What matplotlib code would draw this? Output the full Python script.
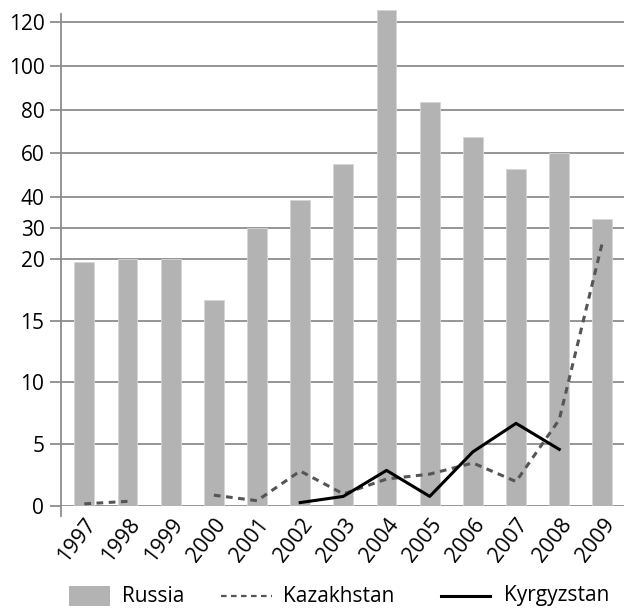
import matplotlib
matplotlib.use("Agg")
import matplotlib.pyplot as plt
import numpy as np
from matplotlib.lines import Line2D
from matplotlib.patches import Rectangle

plt.rcParams["font.family"] = ["Open Sans", "DejaVu Sans"]

years = ["1997", "1998", "1999", "2000", "2001", "2002", "2003",
         "2004", "2005", "2006", "2007", "2008", "2009"]
russia = [19.7, 20.0, 20.0, 16.7, 30.0, 39.1, 54.9, 125.7, 83.4, 67.3, 52.6, 60.0, 32.9]
kazakhstan = [0.2, 0.4, np.nan, 0.9, 0.45, 2.85, 1.0, 2.2, 2.6, 3.5, 2.0, 7.0, 25.3]
kyrgyzstan = [np.nan, np.nan, np.nan, np.nan, np.nan, 0.3, 0.8, 2.9, 0.8, 4.4, 6.7, 4.6, np.nan]
ytick_values = [0, 5, 10, 15, 20, 30, 40, 60, 80, 100, 120]

# broken value axis: 0-20 stretched, 20-40 half, above 40 compressed
BREAKS_V = [0, 20, 40, 140]
BREAKS_P = [0, 4, 5, 5 + 100 * 0.0352]


def forward(v):
    return np.interp(v, BREAKS_V, BREAKS_P)


def inverse(p):
    return np.interp(p, BREAKS_P, BREAKS_V)


GRID = "#8c8c8c"
BAR = "#b3b3b3"
W, H = 624, 609

fig = plt.figure(figsize=(6.24, 6.09), dpi=100)
ax = fig.add_axes([61 / W, 102.7 / H, 563 / W, 500.2 / H])
ax.set_yscale("function", functions=(forward, inverse))

x = np.arange(len(years))
ax.bar(x, russia, width=0.46, color=BAR, edgecolor="#d6d6d6",
       linewidth=0.6, zorder=2)
ax.plot(x, kazakhstan, color="#555555", lw=2.2, ls=(0, (2.2, 1.8)), zorder=3)
ax.plot(x, kyrgyzstan, color="black", lw=2.2, zorder=4)

ax.set_xlim(-0.54, 12.5)
ax.set_ylim(0, 127.5)
ax.set_yticks(ytick_values)
ax.set_yticklabels([str(v) for v in ytick_values], fontsize=15)
ax.yaxis.set_minor_locator(plt.NullLocator())
ax.set_xticks(x)
ax.set_xticklabels(years, fontsize=15.5, rotation=52, ha="right", va="top",
                   rotation_mode="anchor")
ax.tick_params(axis="x", length=0, pad=6)
ax.tick_params(axis="y", length=8, width=1.3, color=GRID, pad=4)
ax.grid(axis="y", color=GRID, lw=1.3, zorder=1)
ax.set_axisbelow(True)

for side in ["top", "right", "bottom", "left"]:
    ax.spines[side].set_visible(False)
ax.plot([0, 0], [-0.02, 0.984], transform=ax.transAxes, color=GRID,
        lw=1.3, clip_on=False, zorder=5)

# legend along the bottom, placed in figure pixels
ly = (H - 596) / H
fig.patches.append(Rectangle((69 / W, (H - 606) / H), 41 / W, 20 / H,
                             transform=fig.transFigure, facecolor=BAR,
                             edgecolor="none"))
fig.lines.append(Line2D([221 / W, 272 / W], [ly, ly], transform=fig.transFigure,
                        color="#555555", lw=1.6, ls=(0, (2.5, 2))))
fig.lines.append(Line2D([441 / W, 490 / W], [ly, ly], transform=fig.transFigure,
                        color="black", lw=2.2))
for label, lx in [("Russia", 122), ("Kazakhstan", 283), ("Kyrgyzstan", 504)]:
    fig.text(lx / W, ly, label, fontsize=15, ha="left", va="center")

fig.savefig("out.png", dpi=100)
